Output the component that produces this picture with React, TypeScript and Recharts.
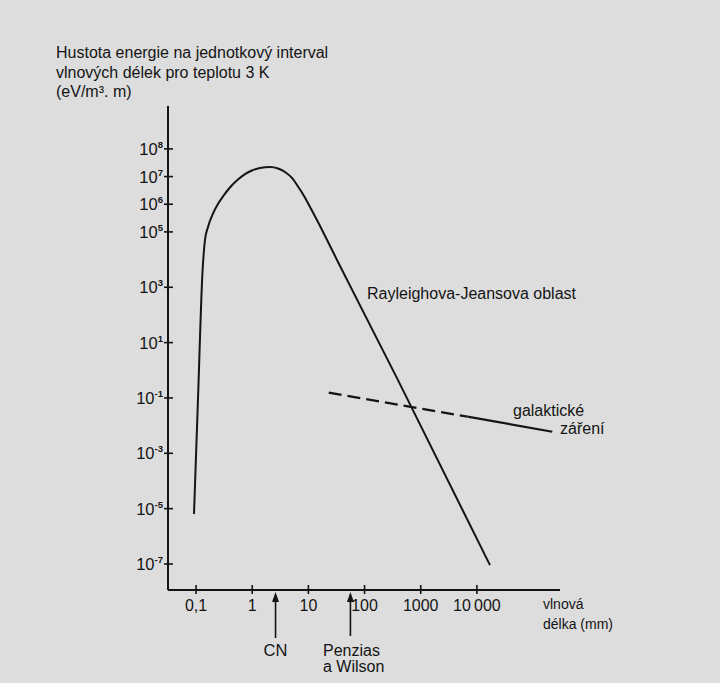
import React from 'react';
import { LineChart, Line, XAxis, YAxis } from 'recharts';

// wavelength in mm, energy density in eV/m^3.m
const PLANCK = [
  { x: 0.0918, y: 6.4e-6 },
  { x: 0.108, y: 8.4e-2 },
  { x: 0.13, y: 3.5e3 },
  { x: 0.144, y: 5.1e4 },
  { x: 0.163, y: 1.5e5 },
  { x: 0.2, y: 4.6e5 },
  { x: 0.245, y: 1.02e6 },
  { x: 0.301, y: 1.9e6 },
  { x: 0.4, y: 4.03e6 },
  { x: 0.557, y: 7.8e6 },
  { x: 0.743, y: 1.23e7 },
  { x: 0.99, y: 1.66e7 },
  { x: 1.37, y: 2.04e7 },
  { x: 2.07, y: 2.2e7 },
  { x: 2.88, y: 1.95e7 },
  { x: 3.83, y: 1.46e7 },
  { x: 5.1, y: 8.9e6 },
  { x: 6.27, y: 4.96e6 },
  { x: 8.36, y: 2.0e6 },
  { x: 10.7, y: 7.9e5 },
  { x: 17.5, y: 1.18e5 },
  { x: 32.3, y: 9.7e3 },
  { x: 378, y: 0.52 },
  { x: 17100, y: 9.1e-8 },
];

const GALACTIC_DASHED = [
  { x: 23, y: 0.155 },
  { x: 6800, y: 0.0211 },
];

const GALACTIC_SOLID = [
  { x: 6800, y: 0.0211 },
  { x: 220000, y: 0.006 },
];

const X_TICKS = [0.1, 1, 10, 100, 1000, 10000];
const X_LABELS = ['0,1', '1', '10', '100', '1000', '10\u2009000'];
const Y_TICKS = [1e8, 1e7, 1e6, 1e5, 1e3, 1e1, 1e-1, 1e-3, 1e-5, 1e-7];
const Y_EXPONENTS = ['8', '7', '6', '5', '3', '1', '-1', '-3', '-5', '-7'];

const CN_WAVELENGTH = 2.6;
const PENZIAS_WAVELENGTH = 56;

const X_DOMAIN = [Math.pow(10, -1.5), Math.pow(10, 5.48)];
const Y_DOMAIN = [Math.pow(10, -7.94), Math.pow(10, 9.55)];

const INK = '#141414';
const BG = '#dddddd';
const FONT = '"Liberation Sans", Arial, Helvetica, sans-serif';

const W = 720;
const H = 683;
const PLOT_LEFT = 168;
const PLOT_TOP = 106;
const PLOT_RIGHT = 560;
const PLOT_BOTTOM = 590;

function xPixel(v: number) {
  const a = Math.log10(X_DOMAIN[0]);
  const b = Math.log10(X_DOMAIN[1]);
  return PLOT_LEFT + ((Math.log10(v) - a) / (b - a)) * (PLOT_RIGHT - PLOT_LEFT);
}

function XTick(props: any) {
  const { x, y, payload } = props;
  const i = X_TICKS.indexOf(payload.value);
  return (
    <g>
      <line x1={x} x2={x} y1={y - 5} y2={y + 4} stroke={INK} strokeWidth={1.6} />
      <text x={x} y={y + 21} textAnchor="middle" fontSize={16} fill={INK} fontFamily={FONT}>
        {X_LABELS[i]}
      </text>
    </g>
  );
}

function YTick(props: any) {
  const { x, y, payload } = props;
  const i = Y_TICKS.indexOf(payload.value);
  return (
    <g>
      <line x1={x - 4} x2={x + 5} y1={y} y2={y} stroke={INK} strokeWidth={1.6} />
      <text x={x - 5} y={y + 6} textAnchor="end" fontSize={16.5} fill={INK} fontFamily={FONT}>
        <tspan>10</tspan>
        <tspan dy={-7} fontSize={9.5} fontWeight="bold">{Y_EXPONENTS[i]}</tspan>
      </text>
    </g>
  );
}

function Arrow({ x, top, bottom }: { x: number; top: number; bottom: number }) {
  return (
    <g>
      <line x1={x} x2={x} y1={top + 8} y2={bottom} stroke={INK} strokeWidth={1.6} />
      <polygon points={`${x},${top} ${x - 3.5},${top + 10} ${x + 3.5},${top + 10}`} fill={INK} />
    </g>
  );
}

export default function App() {
  const cnX = xPixel(CN_WAVELENGTH);
  const pwX = xPixel(PENZIAS_WAVELENGTH);
  return (
    <div style={{ position: 'absolute', left: 0, top: 0, width: W, height: H, background: BG, overflow: 'hidden' }}>
      <LineChart
        width={W}
        height={H}
        margin={{ top: PLOT_TOP, right: W - PLOT_RIGHT, bottom: H - PLOT_BOTTOM - 30, left: PLOT_LEFT - 60 }}
      >
        <XAxis
          type="number"
          dataKey="x"
          scale="log"
          domain={X_DOMAIN}
          allowDataOverflow
          ticks={X_TICKS}
          tick={<XTick />}
          tickSize={0}
          tickMargin={0}
          tickLine={false}
          height={30}
          axisLine={{ stroke: INK, strokeWidth: 2 }}
        />
        <YAxis
          type="number"
          dataKey="y"
          scale="log"
          domain={Y_DOMAIN}
          allowDataOverflow
          ticks={Y_TICKS}
          tick={<YTick />}
          tickSize={0}
          tickMargin={0}
          tickLine={false}
          width={60}
          axisLine={{ stroke: INK, strokeWidth: 2 }}
        />
        <Line
          data={PLANCK}
          dataKey="y"
          type="monotone"
          stroke={INK}
          strokeWidth={2}
          dot={false}
          isAnimationActive={false}
        />
        <Line
          data={GALACTIC_DASHED}
          dataKey="y"
          type="linear"
          stroke={INK}
          strokeWidth={2.2}
          strokeDasharray="13 6"
          dot={false}
          isAnimationActive={false}
        />
        <Line
          data={GALACTIC_SOLID}
          dataKey="y"
          type="linear"
          stroke={INK}
          strokeWidth={2.2}
          dot={false}
          isAnimationActive={false}
        />
      </LineChart>
      <svg
        width={W}
        height={H}
        style={{ position: 'absolute', left: 0, top: 0, pointerEvents: 'none' }}
        fontFamily={FONT}
        fill={INK}
      >
        <text x={56} y={58} fontSize={16}>Hustota energie na jednotkový interval</text>
        <text x={56} y={78} fontSize={16}>vlnových délek pro teplotu 3 K</text>
        <text x={56} y={97} fontSize={16}>(eV/m³. m)</text>

        <text x={367} y={299} fontSize={16}>Rayleighova-Jeansova oblast</text>
        <text x={513} y={416} fontSize={16}>galaktické</text>
        <text x={560} y={434} fontSize={16}>záření</text>

        <text x={543} y={609} fontSize={14}>vlnová</text>
        <text x={543} y={629} fontSize={14}>délka (mm)</text>

        <Arrow x={cnX} top={592} bottom={638} />
        <text x={cnX} y={656} fontSize={16.5} textAnchor="middle">CN</text>

        <Arrow x={pwX} top={592} bottom={636} />
        <text x={323} y={656} fontSize={16}>Penzias</text>
        <text x={323} y={672} fontSize={16}>a Wilson</text>
      </svg>
    </div>
  );
}
